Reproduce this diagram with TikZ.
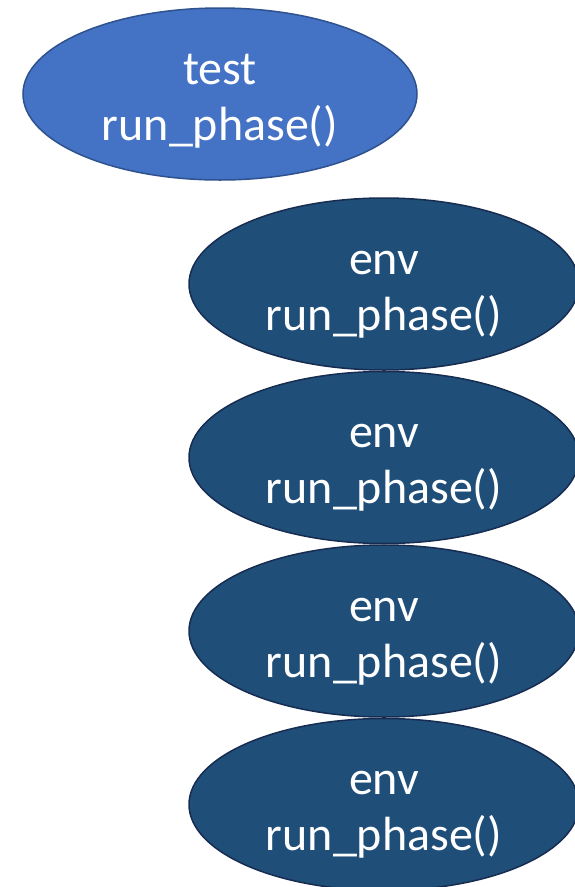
\documentclass[tikz,border=0pt]{standalone}
\usepackage{fontspec}
\setmainfont{Carlito}
\usepackage{tikz}
\usetikzlibrary{shapes.geometric,positioning}
\definecolor{testblue}{HTML}{4472C4}
\definecolor{testedge}{HTML}{2F528F}
\definecolor{envblue}{HTML}{1F4E79}
\definecolor{envedge}{HTML}{172C51}
% two-line label, struts keep both ellipses' text at the same height
\newcommand{\phaselabel}[1]{\rule{0pt}{50pt}#1\\run\_phase()\rule[-14pt]{0pt}{14pt}}

\begin{document}
\begin{tikzpicture}[x=1pt, y=1pt,
  phase/.style={ellipse, inner sep=0pt, line width=1.5pt, text=white,
    align=center, font=\fontsize{48}{56}\selectfont},
  testphase/.style={phase, fill=testblue, draw=testedge,
    minimum width=394pt, minimum height=172pt},
  envphase/.style={phase, fill=envblue, draw=envedge,
    minimum width=390pt, minimum height=172pt}]
  \useasboundingbox (0,0) rectangle (575,-887);
  % test component
  \node[testphase] (test) at (220,-94) {\phaselabel{test}};
  % env components, stacked
  \node[envphase] (envA) at (384,-284) {\phaselabel{env}};
  \node[envphase, below=0pt of envA] (envB) {\phaselabel{env}};
  \node[envphase, below=0pt of envB] (envC) {\phaselabel{env}};
  \node[envphase, below=0pt of envC] (envD) {\phaselabel{env}};
\end{tikzpicture}
\end{document}
